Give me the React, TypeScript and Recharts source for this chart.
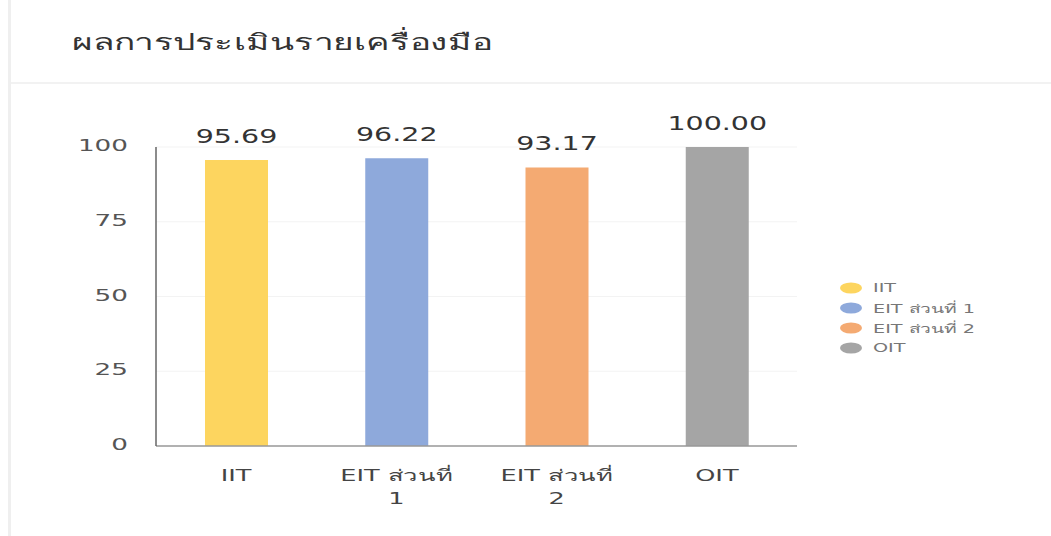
import React from 'react';
import { BarChart, Bar, XAxis, YAxis, CartesianGrid, Legend, Cell, LabelList } from 'recharts';

// values
const categories = ['IIT', 'EIT ส่วนที่ 1', 'EIT ส่วนที่ 2', 'OIT'];
const scores = [95.69, 96.22, 93.17, 100.0];
const barColors = ['#FDD55F', '#8EA9DB', '#F4AA72', '#A5A5A5'];
const yTicks = [0, 25, 50, 75, 100];

const data = categories.map((name, i) => ({ name, score: scores[i], color: barColors[i] }));

const FONT = '"DejaVu Sans", "Noto Sans", sans-serif';
const STRETCH = 1.6;

const YTick = ({ x, y, payload }: any) => (
  <text
    transform={`translate(${x - 26},${y + 4}) scale(1.75,1)`}
    textAnchor="end"
    fontFamily={FONT}
    fontSize={15}
    fill="#555"
  >
    {payload.value}
  </text>
);

const XTick = ({ x, y, payload }: any) => {
  const words = String(payload.value).split(' ');
  const lines = words.length > 2 ? [words.slice(0, -1).join(' '), words[words.length - 1]] : [payload.value];
  return (
    <g transform={`translate(${x},${y})`}>
      {lines.map((line, i) => (
        <text
          key={i}
          transform={`translate(0,${33 + i * 23}) scale(${STRETCH},1)`}
          textAnchor="middle"
          fontFamily={FONT}
          fontSize={16}
          fill="#444"
        >
          {line}
        </text>
      ))}
    </g>
  );
};

const ValueLabel = ({ x, y, width, value }: any) => (
  <text
    transform={`translate(${x + width / 2},${y - 17}) scale(1.5,1)`}
    textAnchor="middle"
    fontFamily={FONT}
    fontSize={19}
    fill="#333"
  >
    {Number(value).toFixed(2)}
  </text>
);

const LegendContent = () => (
  <div>
    {data.map((d) => (
      <div key={d.name} style={{ height: 20, display: 'flex', alignItems: 'center' }}>
        <svg width={24} height={12} style={{ marginRight: 10 }}>
          <ellipse cx={12} cy={6} rx={11} ry={5.5} fill={d.color} />
        </svg>
        <span
          style={{
            fontFamily: FONT,
            fontSize: 12,
            color: '#777',
            whiteSpace: 'nowrap',
            display: 'inline-block',
            transform: `scaleX(${STRETCH})`,
            transformOrigin: 'left center',
          }}
        >
          {d.name}
        </span>
      </div>
    ))}
  </div>
);

export default function App() {
  return (
    <div style={{ position: 'absolute', left: 0, top: 0, width: 1051, height: 536, background: '#fff', overflow: 'hidden' }}>
      <div style={{ position: 'absolute', left: 8, top: 0, width: 3, height: 536, background: '#efefef' }} />
      <div style={{ position: 'absolute', left: 11, top: 82, width: 1040, height: 2, background: '#f2f2f2' }} />
      <div
        style={{
          position: 'absolute',
          left: 72,
          top: 25,
          fontFamily: FONT,
          fontSize: 22,
          color: '#333',
          whiteSpace: 'nowrap',
          transform: `scaleX(${STRETCH})`,
          transformOrigin: 'left center',
        }}
      >
        ผลการประเมินรายเครื่องมือ
      </div>
      <div style={{ position: 'absolute', left: 0, top: 0 }}>
        <BarChart width={1051} height={536} data={data} margin={{ top: 147, right: 254, bottom: 60, left: 0 }}>
          <CartesianGrid vertical={false} stroke="#f3f3f3" />
          <XAxis
            dataKey="name"
            height={30}
            axisLine={{ stroke: '#999', strokeWidth: 1.5 }}
            tickLine={false}
            tickSize={0}
            tick={<XTick />}
            interval={0}
          />
          <YAxis
            width={156}
            domain={[0, 100]}
            ticks={yTicks}
            axisLine={{ stroke: '#666', strokeWidth: 1.5 }}
            tickLine={false}
            tickSize={0}
            tick={<YTick />}
          />
          <Legend
            layout="vertical"
            align="center"
            verticalAlign="middle"
            content={<LegendContent />}
            wrapperStyle={{ left: 839, top: 278, width: 200 }}
          />
          <Bar dataKey="score" barSize={63} isAnimationActive={false}>
            {data.map((d) => (
              <Cell key={d.name} fill={d.color} />
            ))}
            <LabelList dataKey="score" content={<ValueLabel />} />
          </Bar>
        </BarChart>
      </div>
    </div>
  );
}
